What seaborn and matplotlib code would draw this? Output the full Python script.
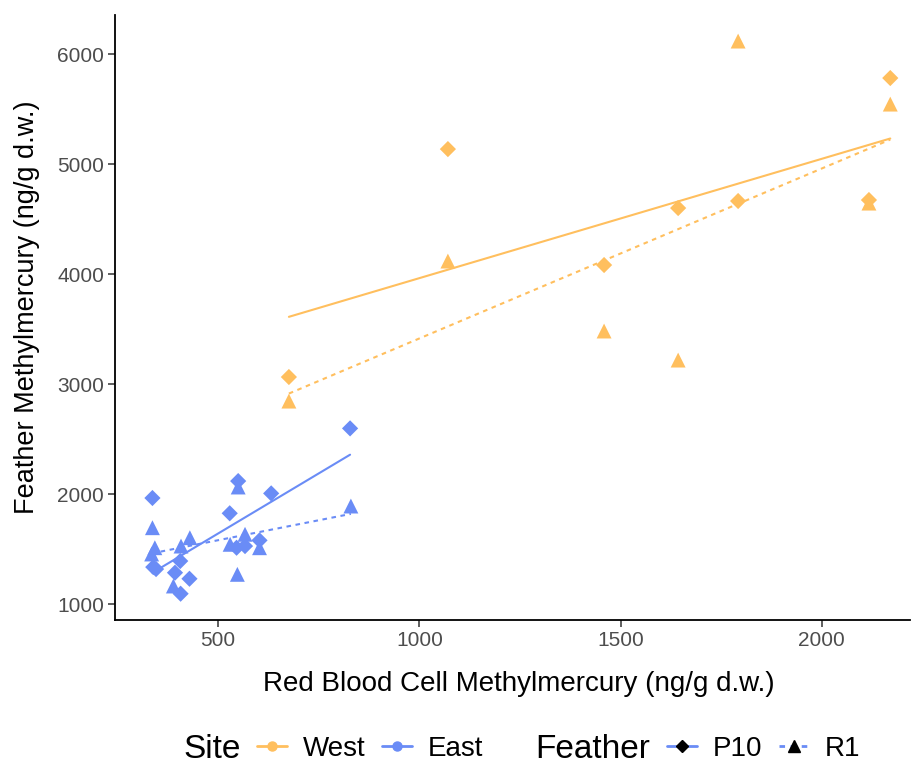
import numpy as np
import pandas as pd
import matplotlib
matplotlib.use("Agg")
import matplotlib.pyplot as plt
from matplotlib.lines import Line2D
import seaborn as sns

# ---- data ----
west_p10_x = [676, 1071, 1459, 1643, 1792, 2117, 2170]
west_p10_y = [3064, 5136, 4082, 4600, 4664, 4673, 5782]
west_r1_x = [676, 1071, 1459, 1643, 1792, 2117, 2170]
west_r1_y = [2845, 4118, 3482, 3218, 6118, 4645, 5545]
east_p10_x = [337, 550, 632, 529, 828, 603, 567, 546, 339, 346, 406, 393, 429, 407]
east_p10_y = [1964, 2118, 2006, 1825, 2597, 1579, 1527, 1512, 1336, 1318, 1391, 1285, 1230, 1094]
east_r1_x = [337, 343, 335, 408, 430, 389, 550, 530, 567, 603, 548, 830]
east_r1_y = [1694, 1512, 1455, 1527, 1603, 1164, 2064, 1543, 1634, 1512, 1270, 1891]

sites = ["West", "East"]
feathers = ["P10", "R1"]
site_colors = {"West": "#FFBF5E", "East": "#6A8CF6"}

frames = []
for site, feather, xs, ys in [
    ("West", "P10", west_p10_x, west_p10_y),
    ("West", "R1", west_r1_x, west_r1_y),
    ("East", "P10", east_p10_x, east_p10_y),
    ("East", "R1", east_r1_x, east_r1_y),
]:
    frames.append(pd.DataFrame({"RBC": xs, "Feather_MeHg": ys,
                                "Site": site, "Feather": feather}))
df = pd.concat(frames, ignore_index=True)

sns.set_theme(style="ticks")
plt.rcParams["font.family"] = ["Liberation Sans", "DejaVu Sans"]
plt.rcParams["text.color"] = "black"
plt.rcParams["axes.labelcolor"] = "black"

fig = plt.figure(figsize=(9.15, 7.63), dpi=100)
ax = fig.add_axes([115 / 915, 1 - 620 / 763, (910 - 115) / 915, (620 - 15) / 763])

marker_map = {"P10": "D", "R1": "^"}
size_map = {"P10": 68, "R1": 115}
line_map = {"P10": "-", "R1": (0, (2.2, 2.2))}

for site in sites:
    for feather in feathers:
        sub = df[(df.Site == site) & (df.Feather == feather)]
        sns.scatterplot(data=sub, x="RBC", y="Feather_MeHg", ax=ax,
                        color=site_colors[site], marker=marker_map[feather],
                        s=size_map[feather], edgecolor="none", linewidth=0,
                        legend=False, zorder=3)
for site in sites:
    for feather in feathers:
        sub = df[(df.Site == site) & (df.Feather == feather)]
        sns.regplot(data=sub, x="RBC", y="Feather_MeHg", ax=ax, scatter=False,
                    ci=None, truncate=True, color=site_colors[site],
                    line_kws={"linestyle": line_map[feather], "linewidth": 1.5,
                              "zorder": 4})

ax.set_xlim(244, 2219)
ax.set_ylim(855, 6355)
ax.set_xticks([500, 1000, 1500, 2000])
ax.set_yticks([1000, 2000, 3000, 4000, 5000, 6000])
ax.set_xlabel("Red Blood Cell Methylmercury (ng/g d.w.)", fontsize=20, color="black")
ax.set_ylabel("Feather Methylmercury (ng/g d.w.)", fontsize=19.5, color="black")
ax.xaxis.set_label_coords((519 - 115) / 795, (620 - 684) / 605)
ax.yaxis.set_label_coords((27 - 115) / 795, (620 - 307) / 605)
ax.xaxis.label.set_va("center")
ax.yaxis.label.set_va("center")
ax.tick_params(axis="both", labelsize=15, labelcolor="#4D4D4D", color="#333333",
               length=5, width=1.1, pad=3)
for side in ["top", "right"]:
    ax.spines[side].set_visible(False)
for side in ["left", "bottom"]:
    ax.spines[side].set_linewidth(1.3)
    ax.spines[side].set_color("black")
ax.grid(False)

# ---- legends at the bottom ----
ly = 1 - 749 / 763
fig.text(183 / 915, ly, "Site", fontsize=24, va="center", ha="left", color="black")
site_handles = [Line2D([], [], color=site_colors[s], marker="o", markersize=6.5,
                       linestyle="-", linewidth=2) for s in sites]
leg1 = fig.legend(site_handles, sites, loc="center left",
                  bbox_to_anchor=(257 / 915, ly), ncol=2, frameon=False,
                  fontsize=20, handlelength=1.08, handletextpad=0.58,
                  columnspacing=0.58, borderpad=0, borderaxespad=0,
                  labelcolor="black")

fig.text(535 / 915, ly, "Feather", fontsize=24, va="center", ha="left", color="black")
feat_handles = [
    Line2D([], [], color=site_colors["East"], marker="D", markersize=6,
           markerfacecolor="black", markeredgecolor="black", linestyle="-", linewidth=2),
    Line2D([], [], color=site_colors["East"], marker="^", markersize=8,
           markerfacecolor="black", markeredgecolor="black",
           linestyle=(0, (2, 2)), linewidth=2),
]
leg2 = fig.legend(feat_handles, feathers, loc="center left",
                  bbox_to_anchor=(667 / 915, ly), ncol=2, frameon=False,
                  fontsize=20, handlelength=1.08, handletextpad=0.58,
                  columnspacing=0.58, borderpad=0, borderaxespad=0,
                  labelcolor="black")

fig.savefig("out.png", dpi=100)
